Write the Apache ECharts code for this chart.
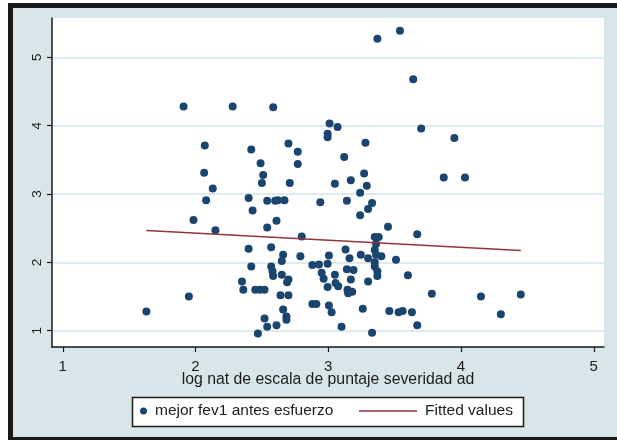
<!DOCTYPE html>
<html>
<head>
<meta charset="utf-8">
<script src="https://cdn.jsdelivr.net/npm/echarts@6/dist/echarts.min.js"></script>
<style>
  html, body { margin: 0; padding: 0; background: #ffffff; }
  #frame { position: absolute; left: 8px; top: 3px; width: 609px; height: 437px;
           border-left: 5px solid #1a1a1a; border-top: 5px solid #1a1a1a; border-bottom: 3px solid #1a1a1a;
           background: #d9e6e9; box-sizing: border-box; }
  #chart { position: absolute; left: 0; top: 0; width: 617px; height: 443px; }
</style>
</head>
<body>
<div id="frame"></div>
<div id="chart"></div>
<script>
// ---- data ----
const xValues = [1.63,1.91,1.95,1.985,2.07,2.065,2.13,2.08,2.15,2.28,2.585,2.42,2.70,2.77,2.49,2.77,2.51,2.50,2.71,2.40,
  2.43,2.54,2.60,2.62,2.67,2.61,2.54,2.80,2.40,2.57,2.66,2.65,2.79,2.42,2.57,2.58,2.585,2.65,2.70,2.69,
  2.35,2.36,2.45,2.485,2.52,2.64,2.70,2.66,2.685,2.685,2.52,2.61,2.54,2.47,2.88,2.93,2.95,2.965,2.88,2.91,
  2.94,2.995,3.005,3.05,3.055,2.995,3.075,3.145,3.18,3.15,3.005,3.025,3.10,3.14,3.17,3.19,3.13,3.16,3.01,3.07,
  2.995,2.995,3.12,3.05,3.17,3.14,3.28,3.27,3.29,3.24,3.33,3.30,3.24,3.35,3.38,3.36,3.245,3.30,3.35,3.36,
  3.40,3.35,3.35,3.37,3.37,3.30,3.26,3.33,3.37,3.45,3.51,3.60,3.67,3.46,3.53,3.56,3.63,3.67,3.54,3.64,
  3.70,3.78,3.95,3.87,4.03,4.15,4.30,4.45];
const yValues = [1.28,4.28,1.50,2.62,3.71,3.31,3.08,2.91,2.47,4.28,4.27,3.65,3.74,3.62,3.45,3.44,3.28,3.16,3.16,2.94,
  2.76,2.90,2.90,2.91,2.91,2.61,2.51,2.38,2.20,2.22,2.11,2.02,2.09,1.94,1.94,1.87,1.80,1.82,1.75,1.71,
  1.72,1.60,1.60,1.60,1.60,1.52,1.52,1.31,1.21,1.16,1.18,1.08,1.06,0.96,1.96,1.97,1.85,1.76,1.39,1.39,
  2.88,1.98,2.10,1.82,1.70,1.64,1.65,1.60,1.57,1.55,1.37,1.27,1.06,1.90,1.75,1.89,2.19,2.06,4.03,3.98,
  3.88,3.83,3.54,3.15,3.20,2.90,3.75,3.30,3.12,3.02,2.87,2.78,2.69,2.37,2.37,2.27,2.11,2.06,2.18,2.11,
  2.09,2.00,1.94,1.87,1.80,1.72,1.32,0.97,5.27,2.52,2.04,1.81,2.41,1.29,1.27,1.29,1.27,1.08,5.39,4.68,
  3.96,1.54,3.82,3.24,3.24,1.50,1.24,1.53];
const fittedX = [1.63, 4.45];
const fittedY = [2.465, 2.175];
const xTicks = [1, 2, 3, 4, 5];
const yTicks = [1, 2, 3, 4, 5];
const xTitle = 'log nat de escala de puntaje severidad ad';
const scatterName = 'mejor fev1 antes esfuerzo';
const lineName = 'Fitted values';

const scatterData = xValues.map((x, i) => [x, yValues[i]]);
const lineData = fittedX.map((x, i) => [x, fittedY[i]]);

const NAVY = '#1a456f';
const MAROON = '#90353b';
const FONT = '"Liberation Sans", Arial, sans-serif';
const TXT = '#1c1c1c';

const chart = echarts.init(document.getElementById('chart'), null, { renderer: 'canvas' });
chart.setOption({
  backgroundColor: 'transparent',
  animation: false,
  textStyle: { fontFamily: FONT },
  grid: { left: 52, top: 18, width: 552, height: 329, show: true, backgroundColor: '#ffffff', borderWidth: 0 },
  xAxis: {
    type: 'value', min: 0.919, max: 5.077,
    name: xTitle, nameLocation: 'middle', nameGap: 25, nameMoveOverlap: false,
    nameTextStyle: { fontSize: 15.8, color: TXT, fontFamily: FONT },
    axisLine: { show: true, lineStyle: { color: '#1a1a1a', width: 1.5 } },
    axisTick: { show: true, customValues: xTicks, length: 5, lineStyle: { color: '#1a1a1a', width: 1.2 } },
    axisLabel: { customValues: xTicks, fontSize: 15, color: TXT, margin: 12, fontFamily: FONT },
    splitLine: { show: false }
  },
  yAxis: {
    type: 'value', min: 0.762, max: 5.575,
    axisLine: { show: true, lineStyle: { color: '#1a1a1a', width: 1.5 } },
    axisTick: { show: true, customValues: yTicks, length: 5, lineStyle: { color: '#1a1a1a', width: 1.2 } },
    axisLabel: { customValues: yTicks, fontSize: 13.5, color: TXT, rotate: 90, margin: 8, fontFamily: FONT },
    splitLine: { show: true, lineStyle: { color: '#d3e4e8', width: 1.5 } }
  },
  graphic: [
    { type: 'rect', z: 0, shape: { x: 132.5, y: 397.5, width: 391, height: 29 },
      style: { fill: '#ffffff', stroke: '#1a1a1a', lineWidth: 1.5 } }
  ],
  legend: [
    { data: [{ name: scatterName, icon: 'circle' }], left: 140, top: 403, itemWidth: 7, itemHeight: 7, itemGap: 0,
      padding: 0, textStyle: { fontSize: 15.5, color: TXT, fontFamily: FONT, padding: [0, 0, 0, 3] } },
    { data: [{ name: lineName, icon: 'rect' }], left: 359, top: 403, itemWidth: 58, itemHeight: 1.5, itemGap: 0,
      padding: 0, textStyle: { fontSize: 15.5, color: TXT, fontFamily: FONT, padding: [0, 0, 0, 3] } }
  ],
  series: [
    { name: scatterName, type: 'scatter', data: scatterData, symbol: 'circle', symbolSize: 8,
      itemStyle: { color: NAVY, opacity: 1 } },
    { name: lineName, type: 'line', data: lineData, showSymbol: false, symbol: 'none',
      lineStyle: { color: MAROON, width: 1.5 }, itemStyle: { color: MAROON } }
  ]
});
</script>
</body>
</html>
